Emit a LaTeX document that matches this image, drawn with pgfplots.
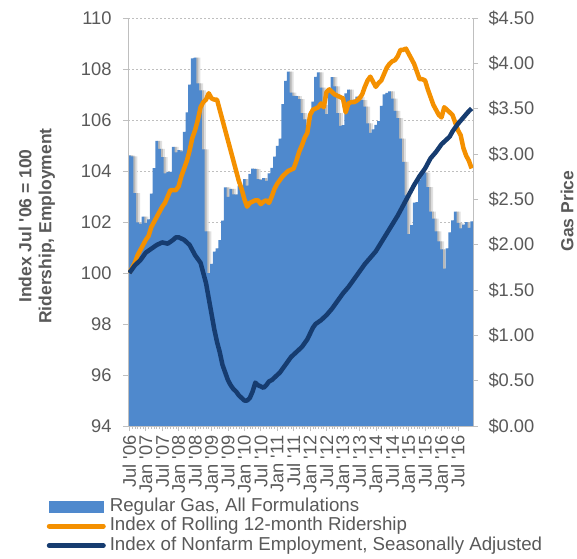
\documentclass[border=0pt]{standalone}
\usepackage{pgfplots}
\usepackage{pgfplotstable}
\pgfplotsset{compat=1.18}
\usepackage{fontspec}
\setmainfont{Liberation Sans}
\definecolor{barblue}{RGB}{79,137,205}
\definecolor{ridorange}{RGB}{244,144,0}
\definecolor{empblue}{RGB}{22,60,112}
\definecolor{textgray}{RGB}{89,89,89}
\definecolor{axisgray}{RGB}{191,191,191}
\newcommand{\q}{\textquotesingle}
\newcommand{\tf}{\fontsize{18.3}{20}\selectfont}
\newcommand{\af}{\fontsize{17.5}{20}\selectfont}
\newcommand{\lf}{\fontsize{18.7}{20}\selectfont}

\pgfplotstableread{
x y
0 2.984
1 2.973
2 2.568
3 2.245
4 2.229
5 2.309
6 2.240
7 2.278
8 2.563
9 2.845
10 3.146
11 3.056
12 2.965
13 2.786
14 2.803
15 2.803
16 3.080
17 3.018
18 3.043
19 3.028
20 3.244
21 3.458
22 3.766
23 4.054
24 4.062
25 3.779
26 3.703
27 3.051
28 2.147
29 1.687
30 1.788
31 1.923
32 1.959
33 2.049
34 2.266
35 2.631
36 2.527
37 2.616
38 2.554
39 2.551
40 2.651
41 2.607
42 2.723
43 2.652
44 2.781
45 2.840
46 2.834
47 2.724
48 2.715
49 2.733
50 2.703
51 2.786
52 2.848
53 2.972
54 3.090
55 3.171
56 3.549
57 3.806
58 3.909
59 3.678
60 3.640
61 3.639
62 3.606
63 3.452
64 3.383
65 3.266
66 3.380
67 3.579
68 3.852
69 3.900
70 3.732
71 3.539
72 3.439
73 3.722
74 3.849
75 3.746
76 3.452
77 3.310
78 3.319
79 3.670
80 3.711
81 3.566
82 3.600
83 3.633
84 3.626
85 3.593
86 3.523
87 3.339
88 3.232
89 3.272
90 3.320
91 3.364
92 3.532
93 3.659
94 3.673
95 3.692
96 3.611
97 3.475
98 3.397
99 3.169
100 2.912
101 2.545
102 2.116
103 2.216
104 2.464
105 2.469
106 2.718
107 2.802
108 2.794
109 2.636
110 2.365
111 2.287
112 2.148
113 2.035
114 1.947
115 1.736
116 1.960
117 2.136
118 2.269
119 2.365
120 2.240
121 2.180
122 2.220
123 2.249
124 2.185
125 2.257
}\gasdata

\pgfplotstableread{
x y
0 100.0
1 100.2
2 100.4
3 100.7
4 100.9
5 101.1
6 101.3
7 101.45
8 101.8
9 102.0
10 102.2
11 102.4
12 102.6
13 102.75
14 103.0
15 103.25
16 103.25
17 103.25
18 103.4
19 103.8
20 104.1
21 104.4
22 104.8
23 105.3
24 105.6
25 106.0
26 106.5
27 106.7
28 106.8
29 107.05
30 106.85
31 106.8
32 106.8
33 106.4
34 106.0
35 105.6
36 105.2
37 104.8
38 104.4
39 104.0
40 103.6
41 103.3
42 102.9
43 102.6
44 102.75
45 102.8
46 102.85
47 102.85
48 102.7
49 102.8
50 102.85
51 102.75
52 103.0
53 103.3
54 103.5
55 103.65
56 103.8
57 103.9
58 104.0
59 104.05
60 104.1
61 104.4
62 104.75
63 105.0
64 105.3
65 105.5
66 106.2
67 106.4
68 106.45
69 106.5
70 106.65
71 106.5
72 107.1
73 107.2
74 107.1
75 107.0
76 106.95
77 106.9
78 106.85
79 106.3
80 106.65
81 106.7
82 106.7
83 106.75
84 106.85
85 107.0
86 107.3
87 107.55
88 107.7
89 107.5
90 107.3
91 107.45
92 107.55
93 107.8
94 108.05
95 108.2
96 108.3
97 108.35
98 108.5
99 108.75
100 108.75
101 108.8
102 108.6
103 108.4
104 108.2
105 107.9
106 107.6
107 107.6
108 107.55
109 107.2
110 106.9
111 106.6
112 106.4
113 106.2
114 106.1
115 106.5
116 106.4
117 106.3
118 106.2
119 105.9
120 105.6
121 105.4
122 104.9
123 104.6
124 104.4
125 104.1
}\riddata

\pgfplotstableread{
x y
0 100.0
2 100.3
4 100.5
6 100.8
8 100.95
10 101.1
12 101.2
14 101.15
16 101.3
17 101.4
18 101.4
19 101.35
20 101.3
22 101.1
24 100.7
26 100.4
27 100.0
28 99.6
29 99.0
30 98.4
31 97.8
32 97.3
33 96.9
34 96.4
35 96.1
36 95.8
37 95.6
38 95.45
39 95.35
40 95.2
41 95.1
42 95.0
43 95.0
44 95.1
45 95.35
46 95.7
47 95.6
48 95.55
49 95.5
50 95.6
51 95.75
52 95.8
53 95.9
54 96.0
55 96.1
57 96.4
59 96.7
61 96.9
63 97.1
65 97.4
67 97.85
68 98.0
70 98.15
72 98.35
74 98.6
76 98.9
78 99.2
80 99.45
82 99.75
84 100.05
86 100.35
88 100.6
90 100.85
92 101.2
94 101.55
96 101.9
98 102.25
100 102.65
102 103.05
104 103.45
106 103.8
108 104.1
110 104.5
112 104.75
114 105.05
116 105.25
117 105.35
118 105.55
120 105.85
122 106.1
124 106.35
125 106.45
}\empdata

\pgfplotsset{
  base/.style={width=345pt, height=408pt, scale only axis,
    xmin=-0.5, xmax=125.5, clip mode=individual,
    /pgf/number format/assume math mode=true,
    tick align=outside, major tick length=5pt, minor tick length=3pt,
    tick style={axisgray, line width=0.6pt},
    axis line style={axisgray, line width=0.8pt, -},
    ticklabel style={font=\tf, text=textgray}},
}

\begin{document}
\begin{tikzpicture}
\useasboundingbox (-128pt,-132pt) rectangle (449pt,426pt);

% grid layer
\begin{axis}[base, ymin=94, ymax=110, ytick={94,96,98,100,102,104,106,108,110},
  xtick=\empty, yticklabels={,,,,,,,,}, major tick length=0pt,
  axis line style={draw=none},
  ymajorgrids, grid style={axisgray, line width=0.7pt, dash pattern=on 2pt off 2pt}]
\end{axis}

% bars (right axis)
\begin{axis}[base, ymin=0, ymax=4.5, axis y line*=right, axis x line=none,
  ytick={0,0.5,1,1.5,2,2.5,3,3.5,4,4.5},
  yticklabel={\$\pgfmathprintnumber[fixed,fixed zerofill,precision=2]{\tick}},
  yticklabel style={xshift=7pt}]
\addplot[ybar, bar width=1, bar shift=4pt, fill=black!12, draw=none] table {\gasdata};
\addplot[ybar, bar width=1, bar shift=2pt, fill=black!28, draw=none] table {\gasdata};
\addplot[ybar, bar width=1, bar shift=0pt, fill=barblue, draw=none] table {\gasdata};
\node[rotate=90, inner sep=0pt, font=\af\bfseries, text=textgray] at (axis description cs:1.2725,0.527) {Gas Price};
\end{axis}

% lines (left axis)
\begin{axis}[base, ymin=94, ymax=110, axis y line*=left, axis x line*=bottom,
  ytick={94,96,98,100,102,104,106,108,110},
  yticklabel style={xshift=-8pt},
  xtick={0,6,...,120}, minor x tick num=5,
  xticklabels={Jul \q06,Jan \q07,Jul \q07,Jan \q08,Jul \q08,Jan \q09,Jul \q09,Jan \q10,Jul \q10,Jan \q11,Jul \q11,Jan \q12,Jul \q12,Jan \q13,Jul \q13,Jan \q14,Jul \q14,Jan \q15,Jul \q15,Jan \q16,Jul \q16},
  xticklabel style={rotate=90, anchor=east, xshift=-1pt},
  legend cell align=left,
  legend style={at={(axis description cs:-0.236,-0.175)}, anchor=north west,
    draw=none, fill=none, font=\lf, text=textgray,
    row sep=1.5pt, inner sep=0pt,
    nodes={inner sep=0pt, text height=13.5pt, text depth=4.5pt},
    /tikz/every odd column/.append style={column sep=4pt}}]
\addlegendimage{legend image code/.code={\fill[barblue] (0pt,-5.5pt) rectangle (54pt,5.5pt);}}
\addlegendentry{Regular Gas, All Formulations}
\addlegendimage{legend image code/.code={\draw[ridorange, line width=5pt, line cap=round] (0pt,0pt) -- (54pt,0pt);}}
\addlegendentry{Index of Rolling 12-month Ridership}
\addlegendimage{legend image code/.code={\draw[empblue, line width=5pt, line cap=round] (0pt,0pt) -- (54pt,0pt);}}
\addlegendentry{Index of Nonfarm Employment, Seasonally Adjusted}
\addplot[forget plot, ridorange, line width=4.5pt, line join=round] table {\riddata};
\addplot[forget plot, empblue, line width=4.5pt, line join=round] table {\empdata};
\node[rotate=90, font=\af\bfseries, text=textgray, align=center] at (axis description cs:-0.264,0.49) {Index Jul \q06 = 100\\Ridership, Employment};
\end{axis}
\end{tikzpicture}
\end{document}
